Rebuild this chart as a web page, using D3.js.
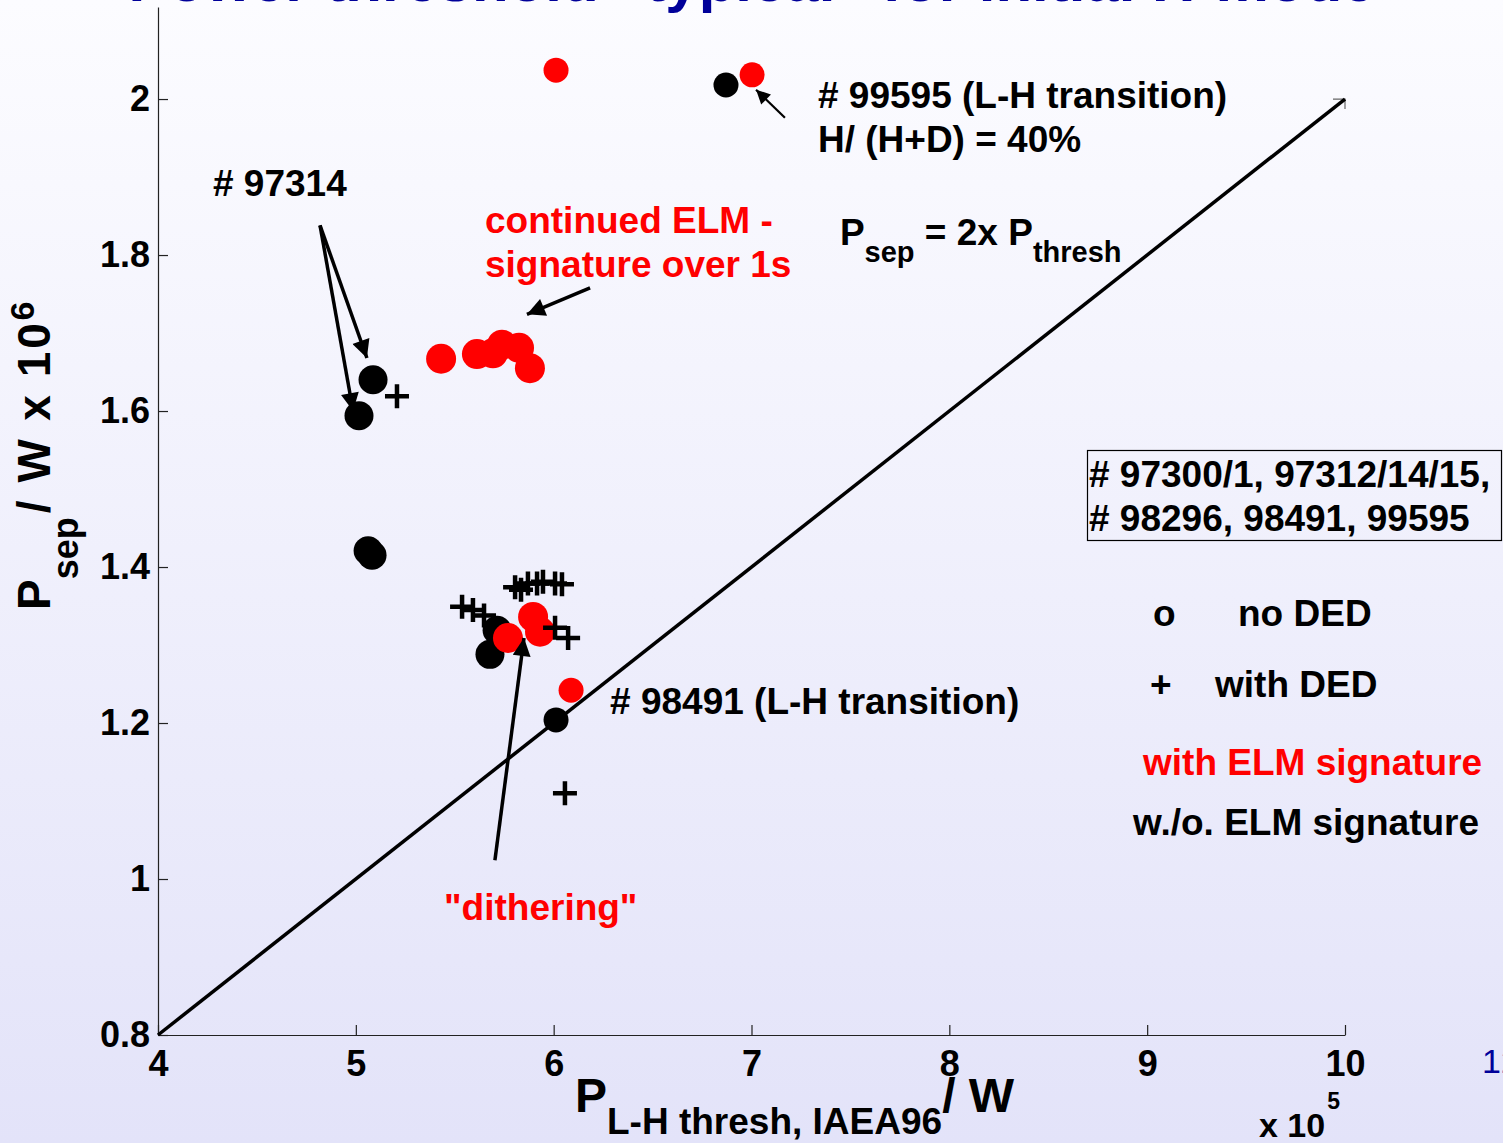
<!DOCTYPE html>
<html>
<head>
<meta charset="utf-8">
<script src="https://cdn.jsdelivr.net/npm/d3@7"></script>
<style>
	body { margin: 0; padding: 0; overflow: hidden; }
	svg { display: block; font-family: "Liberation Sans", Arial, sans-serif; font-weight: bold; }
</style>
</head>
<body>
<div id="chart"></div>
<script>

// points with ELM signature (red)
var elmX = [6.012, 7.003, 5.431, 5.612, 5.693, 5.739, 5.825, 5.880, 5.769, 5.896, 5.931, 6.088];
var elmY = [2.037, 2.031, 1.667, 1.673, 1.674, 1.685, 1.681, 1.655, 1.309, 1.336, 1.317, 1.242];

// points without ELM signature (black)
var noElmX = [6.871, 5.087, 5.016, 5.062, 5.082, 5.714, 5.678, 6.012];
var noElmY = [2.018, 1.640, 1.594, 1.421, 1.415, 1.319, 1.288, 1.204];

// shots with DED (crosses)
var dedX = [5.208, 6.057, 5.537, 5.592, 5.648, 5.805, 5.835, 5.870, 5.916, 5.946, 6.007, 6.042, 6.007, 6.073];
var dedY = [1.619, 1.110, 1.349, 1.345, 1.338, 1.374, 1.371, 1.379, 1.379, 1.381, 1.379, 1.378, 1.322, 1.309];

// P_sep = 2x P_thresh line
var lineX = [4, 10];
var lineY = [0.8, 2.0];

var xTicks = [4, 5, 6, 7, 8, 9, 10];
var yTicks = [0.8, 1, 1.2, 1.4, 1.6, 1.8, 2];

var width = 1503;
var height = 1143;

var x = d3.scaleLinear().domain([4, 10]).range([158, 1345]);
var y = d3.scaleLinear().domain([0.8, 2.118]).range([1035, 7]);

var svg = d3.select("#chart").append("svg")
	.attr("width", width)
	.attr("height", height);

var defs = svg.append("defs");
var grad = defs.append("linearGradient")
	.attr("id", "bg")
	.attr("x1", 0).attr("y1", 0)
	.attr("x2", 0).attr("y2", 1);
grad.append("stop").attr("offset", "0%").attr("stop-color", "#fcfcff");
grad.append("stop").attr("offset", "100%").attr("stop-color", "#e3e3f9");

function marker(id, w, h) {
	defs.append("marker")
		.attr("id", id)
		.attr("viewBox", "0 0 10 10")
		.attr("refX", 10)
		.attr("refY", 5)
		.attr("markerUnits", "userSpaceOnUse")
		.attr("markerWidth", w)
		.attr("markerHeight", h)
		.attr("orient", "auto")
		.append("path")
		.attr("d", "M0,0 L10,5 L0,10 Z")
		.attr("fill", "#000");
}
marker("head", 24, 18);
marker("headSmall", 16, 14);

svg.append("rect")
	.attr("width", width)
	.attr("height", height)
	.attr("fill", "url(#bg)");

// slide title, cut off at the top
svg.append("text")
	.attr("x", 752)
	.attr("y", 1)
	.attr("text-anchor", "middle")
	.attr("font-size", 60)
	.attr("fill", "#000099")
	.text("Power threshold \u201Ctypical\u201D for initial H-mode");

// slide number
svg.append("text")
	.attr("x", 1482)
	.attr("y", 1073)
	.attr("font-size", 34)
	.attr("font-weight", "normal")
	.attr("fill", "#000099")
	.text("12");

// axes
var xAxis = d3.axisBottom(x)
	.tickValues(xTicks)
	.tickSizeInner(-10)
	.tickSizeOuter(0)
	.tickPadding(15)
	.tickFormat(d3.format("d"));

var yAxis = d3.axisLeft(y)
	.tickValues(yTicks)
	.tickSizeInner(-10)
	.tickSizeOuter(0)
	.tickPadding(8)
	.tickFormat(function(d) { return d == 1 || d == 2 ? d3.format("d")(d) : d3.format(".1f")(d); });

var gx = svg.append("g")
	.attr("transform", "translate(0," + y(0.8) + ")")
	.call(xAxis);
var gy = svg.append("g")
	.attr("transform", "translate(" + x(4) + ",0)")
	.call(yAxis);

[gx, gy].forEach(function(g) {
	g.selectAll("path, line").attr("stroke", "#222").attr("stroke-width", 1.2);
	g.selectAll("text")
		.attr("fill", "#000")
		.attr("font-size", 36)
		.attr("font-weight", "bold")
		.attr("font-family", "Liberation Sans, Arial, sans-serif");
});

// little corner at the end of the 2x line
svg.append("path")
	.attr("d", "M" + (x(10) - 12) + "," + y(2) + " H" + x(10) + " V" + (y(2) + 10))
	.attr("fill", "none")
	.attr("stroke", "#666")
	.attr("stroke-width", 1.2);

// x label
var xl = svg.append("text")
	.attr("x", 575)
	.attr("y", 1112)
	.attr("font-size", 48);
xl.append("tspan").text("P");
xl.append("tspan").attr("dy", 22).attr("font-size", 37).text("L-H thresh, IAEA96");
xl.append("tspan").attr("dy", -22).text("/ W");

var xe = svg.append("text")
	.attr("x", 1259)
	.attr("y", 1137)
	.attr("font-size", 34);
xe.append("tspan").text("x 10");
xe.append("tspan").attr("dx", 2).attr("dy", -28).attr("font-size", 23).text("5");

// y label
var yl = svg.append("text")
	.attr("transform", "translate(50,610) rotate(-90)")
	.attr("font-size", 46);
yl.append("tspan").text("P");
yl.append("tspan").attr("dy", 28).attr("font-size", 36).text("sep");
yl.append("tspan").attr("dx", 4).attr("dy", -28).attr("textLength", 190).text("/ W x 10");
yl.append("tspan").attr("dy", -16).attr("font-size", 34).text("6");

// 2x threshold line
svg.append("line")
	.attr("x1", x(lineX[0]))
	.attr("y1", y(lineY[0]))
	.attr("x2", x(lineX[1]))
	.attr("y2", y(lineY[1]))
	.attr("stroke", "#000")
	.attr("stroke-width", 3.5);

// markers: small ones for the L-H transition shots
var smallElm = [0, 1, 11];
var smallNoElm = [0, 7];

svg.append("g").selectAll("circle")
	.data(noElmX)
	.enter()
	.append("circle")
	.attr("cx", function(d) { return x(d); })
	.attr("cy", function(d, i) { return y(noElmY[i]); })
	.attr("r", function(d, i) { return smallNoElm.indexOf(i) >= 0 ? 12.5 : 14.5; })
	.attr("fill", "#000");

svg.append("g").selectAll("circle")
	.data(elmX)
	.enter()
	.append("circle")
	.attr("cx", function(d) { return x(d); })
	.attr("cy", function(d, i) { return y(elmY[i]); })
	.attr("r", function(d, i) { return smallElm.indexOf(i) >= 0 ? 12.5 : 15; })
	.attr("fill", "#ff0000");

svg.append("g").selectAll("path")
	.data(dedX)
	.enter()
	.append("path")
	.attr("transform", function(d, i) { return "translate(" + x(d) + "," + y(dedY[i]) + ")"; })
	.attr("d", "M-12,0 H12 M0,-12 V12")
	.attr("stroke", "#000")
	.attr("stroke-width", 4.5);

// annotations
function label(tx, ty, lines, color, size) {
	var t = svg.append("text")
		.attr("x", x(tx))
		.attr("y", y(ty))
		.attr("font-size", size || 37)
		.attr("fill", color || "#000");
	lines.forEach(function(s, i) {
		t.append("tspan")
			.attr("x", x(tx))
			.attr("dy", i == 0 ? 0 : 44)
			.text(s);
	});
	return t;
}

function arrow(x1, y1, x2, y2, w, head) {
	svg.append("line")
		.attr("x1", x(x1)).attr("y1", y(y1))
		.attr("x2", x(x2)).attr("y2", y(y2))
		.attr("stroke", "#000")
		.attr("stroke-width", w)
		.attr("marker-end", "url(#" + head + ")");
}

label(7.336, 1.988, ["# 99595 (L-H transition)", "H/ (H+D) = 40%"]);
arrow(7.169, 1.976, 7.023, 2.012, 2.2, "headSmall");

label(4.278, 1.876, ["# 97314"]);
arrow(4.819, 1.838, 5.056, 1.668, 3.5, "head");
arrow(4.819, 1.838, 4.986, 1.600, 3.5, "head");

label(5.653, 1.828, ["continued ELM -", "signature over 1s"], "#ff0000");
arrow(6.184, 1.758, 5.865, 1.724, 3.5, "head");

var ps = svg.append("text")
	.attr("x", x(7.447))
	.attr("y", y(1.813))
	.attr("font-size", 37);
ps.append("tspan").text("P");
ps.append("tspan").attr("dy", 17).attr("font-size", 29).text("sep");
ps.append("tspan").attr("dy", -17).text(" = 2x P");
ps.append("tspan").attr("dy", 17).attr("font-size", 29).text("thresh");

label(6.285, 1.212, ["# 98491 (L-H transition)"]);

label(5.446, 0.947, ["\"dithering\""], "#ff0000");
arrow(5.703, 1.024, 5.850, 1.309, 3.5, "head");

// shot list box
svg.append("rect")
	.attr("x", 1087.5)
	.attr("y", 450.5)
	.attr("width", 414)
	.attr("height", 90)
	.attr("fill", "none")
	.attr("stroke", "#000")
	.attr("stroke-width", 1.2);
svg.append("text").attr("x", 1089).attr("y", 487).attr("font-size", 37).text("# 97300/1, 97312/14/15,");
svg.append("text").attr("x", 1089).attr("y", 531).attr("font-size", 37).text("# 98296, 98491, 99595");

// legend
svg.append("text").attr("x", 1153).attr("y", 626).attr("font-size", 37).text("o");
svg.append("text").attr("x", 1238).attr("y", 626).attr("font-size", 37).text("no DED");
svg.append("text").attr("x", 1150).attr("y", 697).attr("font-size", 37).text("+");
svg.append("text").attr("x", 1215).attr("y", 697).attr("font-size", 37).text("with DED");
svg.append("text").attr("x", 1143).attr("y", 775).attr("font-size", 37).attr("fill", "#ff0000").text("with ELM signature");
svg.append("text").attr("x", 1133).attr("y", 835).attr("font-size", 37).text("w./o. ELM signature");

</script>
</body>
</html>
